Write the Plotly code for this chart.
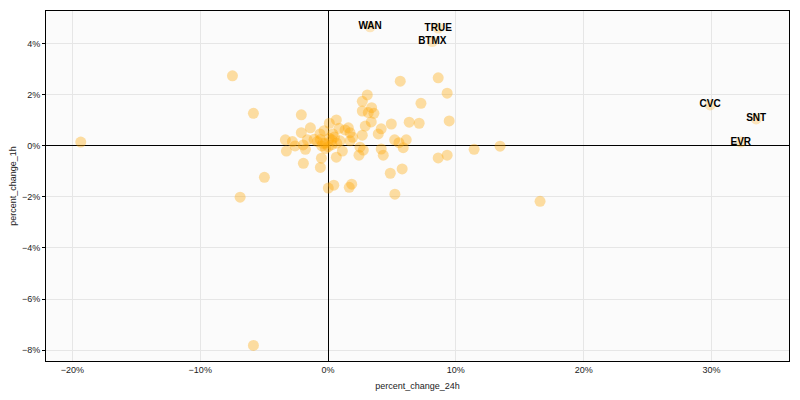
import plotly.graph_objects as go

# percent_change_24h (x) and percent_change_1h (y), as fractions
x_vals = [0.0565, 0.0862, 0.0932, 0.0307, 0.0268, 0.0727, 0.0341, 0.0268, 0.0315, 0.0359,
          -0.0209, 0.0948, 0.0065, 0.0010, 0.0338, 0.0495, 0.0635, 0.0713, 0.0291, -0.0138,
          0.0086, 0.0133, 0.0159, 0.0416, -0.0209, 0.0172, 0.0393, 0.0268, -0.0063, 0.0037,
          -0.0031, 0.0193, -0.0334, -0.0279, -0.0162, -0.0109, 0.0094, 0.0172, 0.0521, 0.0612,
          0.0555, -0.0258, -0.0195, -0.0177, -0.0084, -0.0049, 0.0002, -0.0023, 0.0029, 0.0068,
          0.0250, 0.0276, 0.0416, 0.0588, 0.1143, 0.1346, -0.0326, 0.0112, 0.0065, -0.0052,
          0.0242, 0.0432, 0.0862, 0.0932, -0.0193, -0.0060, 0.0580, 0.0487, -0.0498, 0.0002,
          0.0045, 0.0166, 0.0185, 0.0523, 0.1659, -0.0748, -0.0584, -0.0688, -0.0584, -0.1935,
          -0.0040, 0.0010, -0.0020, 0.0030, -0.0060, 0.0050]
y_vals = [0.0254, 0.0267, 0.0207, 0.0200, 0.0175, 0.0167, 0.0150, 0.0137, 0.0131, 0.0128,
          0.0122, 0.0098, 0.0102, 0.0089, 0.0094, 0.0086, 0.0093, 0.0089, 0.0078, 0.0071,
          0.0069, 0.0063, 0.0071, 0.0067, 0.0052, 0.0052, 0.0047, 0.0042, 0.0047, 0.0047,
          0.0060, 0.0034, 0.0024, 0.0017, 0.0024, 0.0026, 0.0020, 0.0020, 0.0024, 0.0024,
          0.0013, 0.0000, 0.0004, -0.0013, 0.0017, 0.0000, -0.0003, 0.0011, 0.0024, 0.0011,
          -0.0005, -0.0016, -0.0012, -0.0007, -0.0013, -0.0001, -0.0020, -0.0020, -0.0044, -0.0048,
          -0.0036, -0.0036, -0.0047, -0.0036, -0.0068, -0.0084, -0.0090, -0.0107, -0.0123, -0.0165,
          -0.0154, -0.0162, -0.0150, -0.0189, -0.0217, 0.0275, 0.0128, -0.0201, -0.0782, 0.0015,
          0.0010, 0.0030, -0.0010, 0.0005, 0.0025, 0.0035]

# labelled outliers
label_names = ["WAN", "TRUE", "BTMX", "CVC", "SNT", "EVR"]
label_x = [0.0329, 0.0862, 0.0816, 0.2990, 0.3350, 0.3230]
label_y = [0.0467, 0.0462, 0.0409, 0.0161, 0.0106, 0.0015]

x_range = [-0.2207, 0.3607]
y_range = [-0.0843, 0.0529]

orange = "rgba(255,165,0,0.36)"
font_family = "Liberation Sans, Arial, sans-serif"

fig = go.Figure()
fig.add_trace(go.Scatter(
    x=x_vals, y=y_vals, mode="markers",
    marker=dict(size=11, color=orange, line=dict(width=0)),
    showlegend=False, hoverinfo="x+y",
))
fig.add_trace(go.Scatter(
    x=label_x, y=label_y, mode="markers+text", text=label_names,
    textposition="middle center",
    textfont=dict(family=font_family, size=10, color="black", weight="bold"),
    marker=dict(size=11, color="rgba(255,165,0,0.25)", line=dict(width=0)),
    showlegend=False,
))

axis_common = dict(
    showline=True, linecolor="black", linewidth=1, mirror=True,
    showgrid=True, gridcolor="#e6e6e6", gridwidth=1,
    zeroline=True, zerolinecolor="black", zerolinewidth=1,
    tickformat=".0%",
    tickfont=dict(family=font_family, size=9, color="#222"),
    title_font=dict(family=font_family, size=9, color="#222"),
)

fig.update_layout(
    width=792, height=392,
    margin=dict(l=38, r=11, t=3, b=39),
    paper_bgcolor="white", plot_bgcolor="#fbfbfb",
    xaxis=dict(range=x_range, dtick=0.1, automargin=True, ticks="",
               title=dict(text="percent_change_24h", standoff=8), **axis_common),
    yaxis=dict(range=y_range, dtick=0.02, automargin=False,
               ticks="outside", ticklen=3, tickcolor="black", tickwidth=1,
               title=dict(text="percent_change_1h"), **axis_common),
)

fig.write_html("out.html")
